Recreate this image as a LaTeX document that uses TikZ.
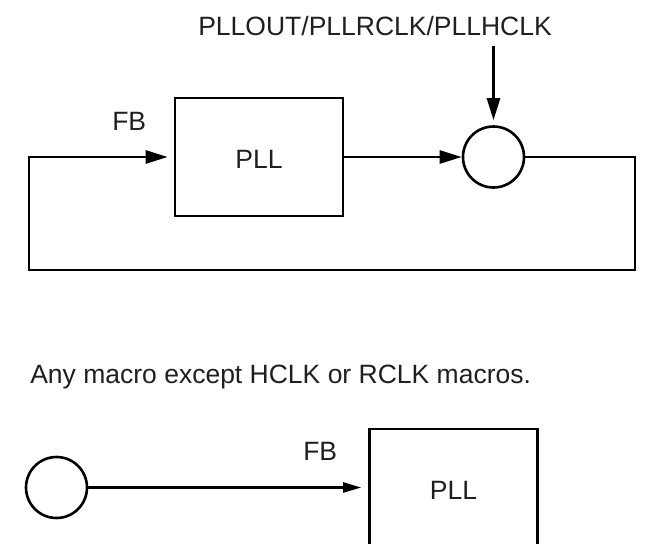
\documentclass[tikz,border=0pt]{standalone}
\usepackage{fontspec}
\setmainfont{Liberation Sans}
\usetikzlibrary{arrows.meta}
\begin{document}
\begin{tikzpicture}[x=1pt,y=-1pt,line width=2.6pt,
  lbl/.style={font=\fontsize{26.5}{30}\selectfont, inner sep=0pt, text=black!88},
  blk/.style={draw, line width=2.6pt, inner sep=0pt, minimum width=168pt, minimum height=118pt,
              font=\fontsize{26.5}{30}\selectfont, text height=22pt, text depth=0pt, text=black!88},
  junc/.style={draw, circle, minimum size=61pt, inner sep=0pt, line width=2.6pt},
  arr/.style={-{Triangle[length=22pt,width=13pt]}},
  arrs/.style={-{Triangle[length=18pt,width=10pt]}, line width=2.2pt}]
\useasboundingbox (0,0) rectangle (657,544);
% top diagram
\node[lbl, anchor=base west] (title) at (197,35) {PLLOUT/PLLRCLK/PLLHCLK};
\node[blk] (pll1) at (259,157) {PLL};
\node[junc] (c1) at (493.5,157) {};
\node[lbl, anchor=base west] (fb1) at (111,130) {FB};
\coordinate (fbR) at (635,270);
\coordinate (fbL) at (29,270);
\draw[arr, shorten <=9.5pt, shorten >=5pt] (title.south -| c1) -- (c1.north);
\draw[arr] (pll1.east) -- (c1.west);
\draw[arr, shorten >=6pt] (c1.east) -| (fbR) -- (fbL) |- (pll1.west);
% bottom diagram
\node[lbl, anchor=base west] (note) at (29,383) {Any macro except HCLK or RCLK macros.};
\node[junc] (c2) at (56.5,487.5) {};
\node[blk] (pll2) at (453.5,488) {PLL};
\node[lbl, anchor=base west] (fb2) at (302,460) {FB};
\draw[arrs, shorten >=7pt] (c2.east) -- (pll2.west |- c2.east);
\end{tikzpicture}
\end{document}
